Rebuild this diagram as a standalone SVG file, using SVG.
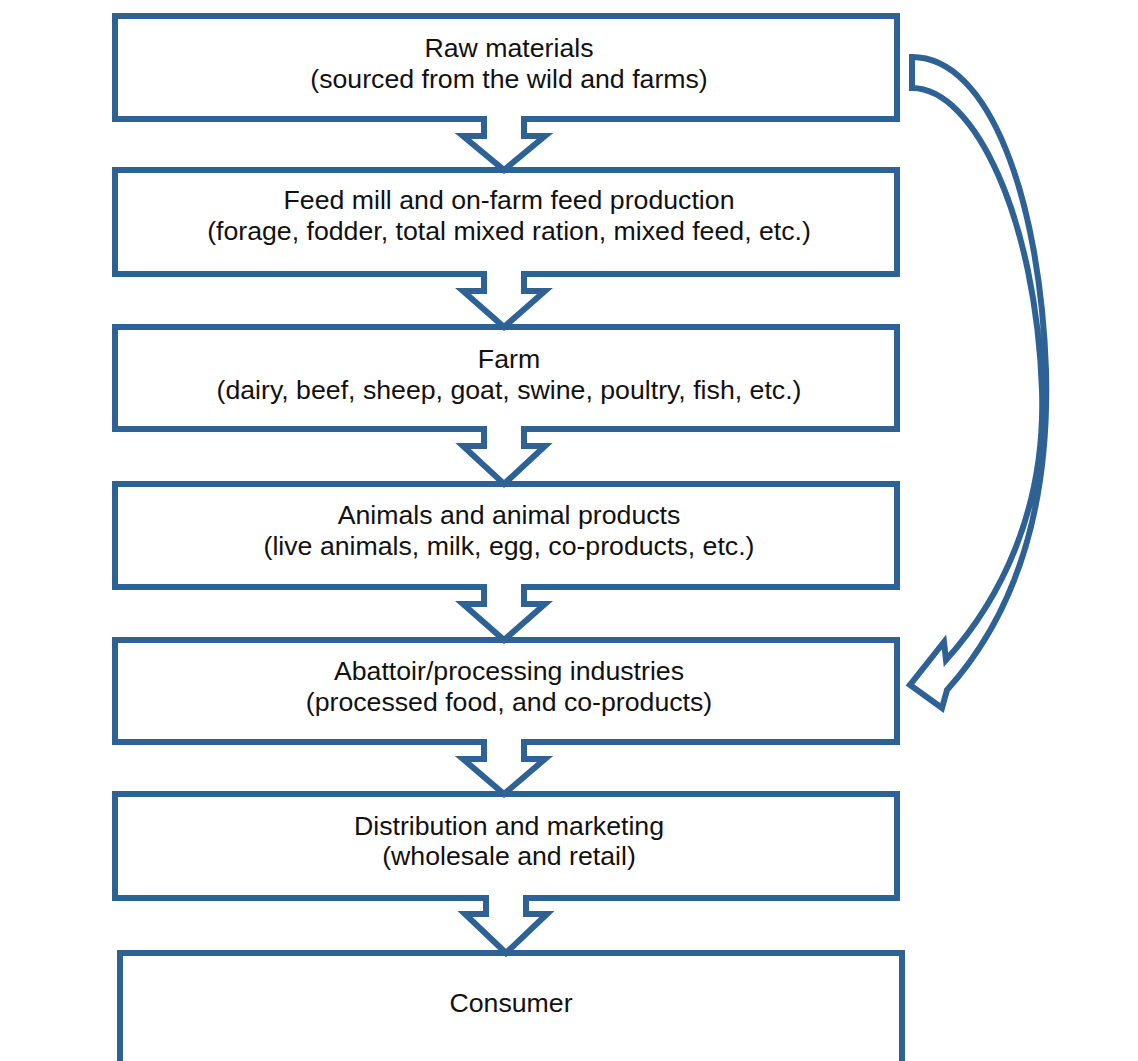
<svg xmlns="http://www.w3.org/2000/svg" width="1138" height="1061" viewBox="0 0 1138 1061">
<style>
.box{fill:#ffffff;stroke:#2E6295;stroke-width:6;stroke-linejoin:miter}
.arr{fill:#ffffff;stroke:#2E6295;stroke-width:6;stroke-linejoin:miter;stroke-linecap:butt}
.t{font-family:"Liberation Sans",Arial,sans-serif;font-size:26.7px;fill:#111111;text-anchor:middle}
</style>
<rect width="1138" height="1061" fill="#ffffff"/>
<g id="node-raw">
<rect class="box" x="115" y="16" width="782" height="103"/>
<text class="t" x="509" y="57">Raw materials</text>
<text class="t" x="509" y="88">(sourced from the wild and farms)</text>
</g>
<g id="node-feed">
<rect class="box" x="115" y="170" width="782" height="104"/>
<text class="t" x="509" y="209">Feed mill and on-farm feed production</text>
<text class="t" x="509" y="240">(forage, fodder, total mixed ration, mixed feed, etc.)</text>
</g>
<g id="node-farm">
<rect class="box" x="115" y="327" width="782" height="102"/>
<text class="t" x="509" y="368">Farm</text>
<text class="t" x="509" y="399">(dairy, beef, sheep, goat, swine, poultry, fish, etc.)</text>
</g>
<g id="node-animals">
<rect class="box" x="115" y="484" width="782" height="103"/>
<text class="t" x="509" y="524">Animals and animal products</text>
<text class="t" x="509" y="555">(live animals, milk, egg, co-products, etc.)</text>
</g>
<g id="node-abattoir">
<rect class="box" x="115" y="640" width="782" height="102"/>
<text class="t" x="509" y="680">Abattoir/processing industries</text>
<text class="t" x="509" y="711">(processed food, and co-products)</text>
</g>
<g id="node-distribution">
<rect class="box" x="115" y="794" width="782" height="104"/>
<text class="t" x="509" y="835">Distribution and marketing</text>
<text class="t" x="509" y="865">(wholesale and retail)</text>
</g>
<g id="node-consumer">
<rect class="box" x="120" y="953" width="782" height="140"/>
<text class="t" x="511" y="1012">Consumer</text>
</g>
<g id="connectors">
<path class="arr" d="M484,116 V136 H463 L504,170 L545,136 H524 V116"/>
<path class="arr" d="M484,271 V291 H463 L504,327 L545,291 H524 V271"/>
<path class="arr" d="M484,426 V446 H463 L504,484 L545,446 H524 V426"/>
<path class="arr" d="M484,584 V604 H463 L504,640 L545,604 H524 V584"/>
<path class="arr" d="M484,739 V759 H463 L504,794 L545,759 H524 V739"/>
<path class="arr" d="M486,895 V914 H465 L506,953 L547,914 H526 V895"/>
<path class="arr" d="M912,57 C990,57 1040,200 1046,370 C1050,520 1010,620 947,690 L942,708 L910,685 L944,642 L946,660 C1000,600 1046,510 1042,390 C1036,220 975,88 912,88 Z"/>
</g>
</svg>
